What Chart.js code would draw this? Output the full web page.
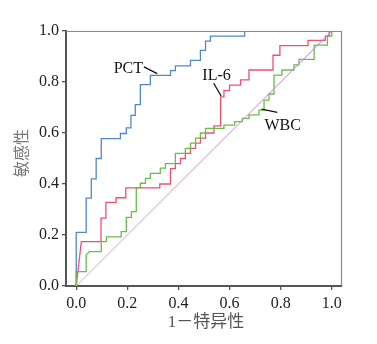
<!DOCTYPE html>
<html>
<head>
<meta charset="utf-8">
<script src="https://cdn.jsdelivr.net/npm/chart.js@4.4.0/dist/chart.umd.min.js"></script>
<style>
  html, body { margin: 0; padding: 0; background: #fff; }
  #wrap { width: 377px; height: 344px; }
</style>
</head>
<body>
<div id="wrap"><canvas id="roc"></canvas></div>
<script>
// -----------------------------
// ROC curve vertices (1-specificity, sensitivity)
// -----------------------------
const pctX = [0, 0, 0.039, 0.039, 0.059, 0.059, 0.078, 0.078, 0.098, 0.098, 0.173, 0.173, 0.196, 0.196, 0.214, 0.214, 0.231, 0.231, 0.251, 0.251, 0.29, 0.29, 0.369, 0.369, 0.388, 0.388, 0.447, 0.447, 0.486, 0.486, 0.506, 0.506, 0.525, 0.525, 0.659, 0.659];
const pctY = [0, 0.21, 0.21, 0.345, 0.345, 0.42, 0.42, 0.50, 0.50, 0.578, 0.578, 0.598, 0.598, 0.62, 0.62, 0.669, 0.669, 0.711, 0.711, 0.79, 0.79, 0.826, 0.826, 0.845, 0.845, 0.863, 0.863, 0.885, 0.885, 0.924, 0.924, 0.96, 0.96, 0.98, 0.98, 1.0];

const il6X = [0, 0.02, 0.097, 0.097, 0.116, 0.116, 0.156, 0.156, 0.194, 0.194, 0.327, 0.327, 0.369, 0.369, 0.388, 0.388, 0.408, 0.408, 0.427, 0.427, 0.447, 0.447, 0.467, 0.467, 0.486, 0.486, 0.506, 0.506, 0.539, 0.539, 0.565, 0.565, 0.578, 0.578, 0.6, 0.6, 0.643, 0.643, 0.676, 0.676, 0.77, 0.77, 0.797, 0.797, 0.907, 0.907, 0.975, 0.975, 0.99, 0.99, 1.0];
const il6Y = [0, 0.174, 0.174, 0.266, 0.266, 0.328, 0.328, 0.346, 0.346, 0.385, 0.385, 0.40, 0.40, 0.46, 0.46, 0.48, 0.48, 0.50, 0.50, 0.52, 0.52, 0.54, 0.54, 0.56, 0.56, 0.58, 0.58, 0.60, 0.60, 0.628, 0.628, 0.742, 0.742, 0.766, 0.766, 0.788, 0.788, 0.808, 0.808, 0.847, 0.847, 0.905, 0.905, 0.943, 0.943, 0.963, 0.963, 0.98, 0.98, 1.0, 1.0];

const wbcX = [0, 0, 0.039, 0.039, 0.052, 0.098, 0.098, 0.118, 0.118, 0.176, 0.176, 0.196, 0.196, 0.216, 0.216, 0.235, 0.235, 0.251, 0.251, 0.271, 0.271, 0.29, 0.29, 0.329, 0.329, 0.349, 0.349, 0.388, 0.388, 0.427, 0.427, 0.447, 0.447, 0.467, 0.467, 0.486, 0.486, 0.506, 0.506, 0.578, 0.578, 0.62, 0.62, 0.65, 0.65, 0.676, 0.676, 0.715, 0.715, 0.735, 0.735, 0.754, 0.754, 0.774, 0.774, 0.805, 0.805, 0.852, 0.852, 0.872, 0.872, 0.931, 0.931, 0.983, 0.983, 1.0, 1.0];
const wbcY = [0, 0.056, 0.056, 0.122, 0.135, 0.135, 0.174, 0.174, 0.193, 0.193, 0.213, 0.213, 0.269, 0.269, 0.292, 0.292, 0.386, 0.386, 0.403, 0.403, 0.422, 0.422, 0.442, 0.442, 0.462, 0.462, 0.48, 0.48, 0.52, 0.52, 0.54, 0.54, 0.56, 0.56, 0.58, 0.58, 0.60, 0.60, 0.618, 0.618, 0.631, 0.631, 0.645, 0.645, 0.657, 0.657, 0.671, 0.671, 0.69, 0.69, 0.729, 0.729, 0.753, 0.753, 0.827, 0.827, 0.847, 0.847, 0.867, 0.867, 0.889, 0.889, 0.945, 0.945, 0.98, 0.98, 1.0];

const refX = [0, 1];
const refY = [0, 1];

const tickValues = [0, 0.2, 0.4, 0.6, 0.8, 1.0];

// curve labels: [text, textX, textY, lineFromX, lineFromY, lineToX, lineToY]
const curveLabels = [
    ['PCT', 0.204, 0.851, 0.265, 0.859, 0.317, 0.833],
    ['IL-6', 0.549, 0.824, 0.538, 0.795, 0.567, 0.745],
    ['WBC', 0.808, 0.627, 0.725, 0.694, 0.787, 0.681]
];

const xTitle = '1－特异性';
const yTitle = '敏感性';

const toPoints = (xs, ys) => xs.map((x, i) => ({ x: x, y: ys[i] }));

const serif = "'Liberation Serif', 'Times New Roman', serif";
const cjk = "'Liberation Serif', 'Noto Sans CJK SC', serif";

// -----------------------------
// Frame, axis titles and curve labels
// -----------------------------
const decorPlugin = {
    id: 'decor',
    afterDatasetsDraw(chart) {
        const { ctx, chartArea: a, scales: { x, y } } = chart;
        ctx.save();
        // top and right frame lines
        ctx.strokeStyle = '#8a8a96';
        ctx.lineWidth = 1.2;
        ctx.beginPath();
        ctx.moveTo(a.left, a.top + 0.5);
        ctx.lineTo(a.right - 0.5, a.top + 0.5);
        ctx.lineTo(a.right - 0.5, a.bottom);
        ctx.stroke();

        // curve labels with pointer lines
        ctx.fillStyle = '#111';
        ctx.strokeStyle = '#111';
        ctx.lineWidth = 1.3;
        ctx.font = '16px ' + serif;
        ctx.textAlign = 'center';
        ctx.textBaseline = 'middle';
        curveLabels.forEach(l => {
            ctx.fillText(l[0], x.getPixelForValue(l[1]), y.getPixelForValue(l[2]));
            ctx.beginPath();
            ctx.moveTo(x.getPixelForValue(l[3]), y.getPixelForValue(l[4]));
            ctx.lineTo(x.getPixelForValue(l[5]), y.getPixelForValue(l[6]));
            ctx.stroke();
        });

        // axis titles
        ctx.fillStyle = '#555';
        ctx.font = '17px ' + cjk;
        ctx.fillText(xTitle, (a.left + a.right) / 2 + 2, 323);
        ctx.fillStyle = '#777';
        ctx.translate(23, 153);
        ctx.rotate(-Math.PI / 2);
        ctx.font = '16px ' + cjk;
        ctx.fillText(yTitle, 0, 0);
        ctx.restore();
    }
};

function diagColor(context) {
    const area = context.chart.chartArea;
    if (!area) return '#d9a0c0';
    const g = context.chart.ctx.createLinearGradient(area.left, area.bottom, area.right, area.top);
    g.addColorStop(0, '#f0a0b8');
    g.addColorStop(1, '#a878d8');
    return g;
}

const line = (data, color, width) => ({
    data: data,
    showLine: true,
    borderColor: color,
    borderWidth: width,
    pointRadius: 0,
    fill: false,
    tension: 0
});

new Chart(document.getElementById('roc'), {
    type: 'scatter',
    data: {
        datasets: [
            line(toPoints(refX, refY), diagColor, 1),
            line(toPoints(wbcX, wbcY), '#6cbd48', 1.3),
            line(toPoints(il6X, il6Y), '#f0506e', 1.3),
            line(toPoints(pctX, pctY), '#5088cc', 1.3)
        ]
    },
    options: {
        responsive: true,
        maintainAspectRatio: false,
        animation: false,
        layout: { padding: { top: 31, right: 35, left: 0, bottom: 0 } },
        plugins: { legend: { display: false }, tooltip: { enabled: false } },
        scales: {
            x: {
                type: 'linear',
                min: -0.04,
                max: 1.04,
                afterBuildTicks: s => { s.ticks = tickValues.map(v => ({ value: v })); },
                afterFit: s => { s.height = 58; },
                grid: { drawOnChartArea: false, drawTicks: true, tickLength: 4, color: '#555', lineWidth: 1.3 },
                border: { display: true, color: '#555', width: 2 },
                ticks: {
                    color: '#222',
                    padding: 4,
                    font: { family: serif, size: 16 },
                    callback: v => v.toFixed(1)
                }
            },
            y: {
                type: 'linear',
                min: 0,
                max: 1,
                afterBuildTicks: s => { s.ticks = tickValues.map(v => ({ value: v })); },
                afterFit: s => { s.width = 66; },
                grid: { drawOnChartArea: false, drawTicks: true, tickLength: 4, color: '#555', lineWidth: 1.3 },
                border: { display: true, color: '#555', width: 2 },
                ticks: {
                    color: '#222',
                    padding: 3,
                    font: { family: serif, size: 16 },
                    callback: v => v.toFixed(1)
                }
            }
        }
    },
    plugins: [decorPlugin]
});
</script>
</body>
</html>
